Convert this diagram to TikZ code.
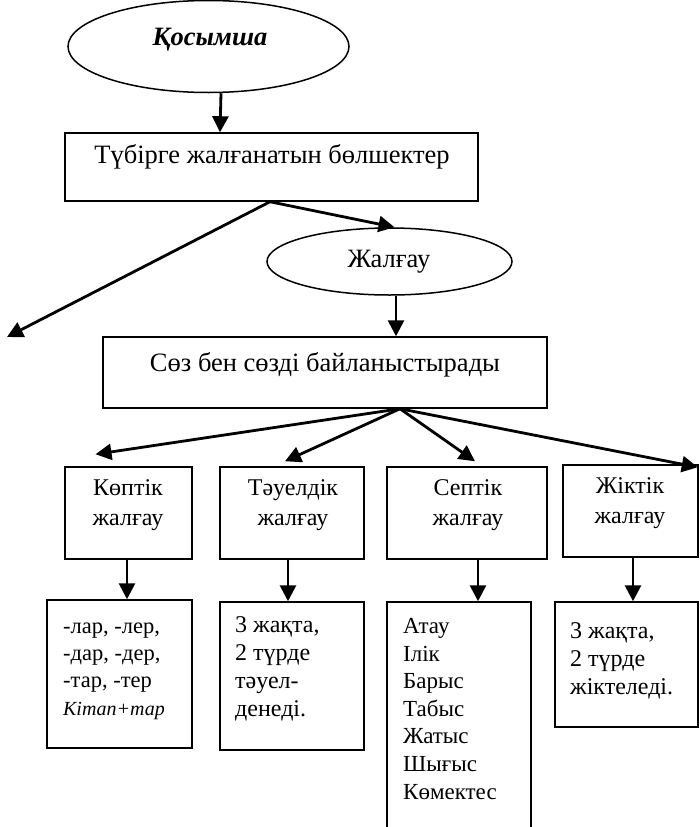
\documentclass[tikz,border=0pt]{standalone}
\usepackage{fontspec}
\setmainfont{Liberation Serif}
\usetikzlibrary{arrows.meta,shapes.geometric}
\tikzset{
  box/.style={draw, line width=1.5pt, rectangle, inner sep=0pt},
  oval/.style={draw, line width=1.5pt, ellipse, inner sep=0pt},
  arr/.style={line width=2.8pt, -{Triangle[length=16pt,width=16pt]}},
  txt/.style={inner sep=0pt, font=\fontsize{26.5}{30}\selectfont},
  ltxt/.style={inner sep=0pt, align=left, anchor=north west},
  ctxt/.style={inner sep=0pt, align=center, font=\fontsize{24}{30}\selectfont},
}
\begin{document}
\begin{tikzpicture}[x=1pt,y=-1pt]
\useasboundingbox (0,0) rectangle (699,827);
\clip (0,0) rectangle (699,827);
% top ellipse
\node[oval, minimum width=281, minimum height=92] (e1) at (208.5,46.5) {};
\node[txt, font=\fontsize{26.5}{30}\selectfont\bfseries\itshape] (t1) at (210,40) {Қосымша};
% box 1
\node[box, minimum width=413, minimum height=68] (b1) at (271.5,167) {};
\node[txt] (t2) at (272,157) {Түбірге жалғанатын бөлшектер};
% ellipse 2
\node[oval, minimum width=245, minimum height=67] (e2) at (389.5,261.5) {};
\node[txt] (t3) at (389,262) {Жалғау};
% box 2
\node[box, minimum width=444, minimum height=71] (b2) at (325,372.5) {};
\node[txt] (t4) at (325,365) {Сөз бен сөзді байланыстырады};
% category boxes
\node[box, minimum width=127, minimum height=92] (k1) at (128.5,513) {};
\node[box, minimum width=144, minimum height=92] (k2) at (292,513) {};
\node[box, minimum width=160, minimum height=92] (k3) at (467,513) {};
\node[box, minimum width=135, minimum height=92] (k4) at (630.5,511) {};
\node[ctxt] (c1) at (128,505) {Көптік\\жалғау};
\node[ctxt] (c2) at (293,505) {Тәуелдік\\жалғау};
\node[ctxt] (c3) at (468,505) {Септік\\жалғау};
\node[ctxt] (c4) at (630,503) {Жіктік\\жалғау};
% detail boxes
\node[box, minimum width=145, minimum height=148] (d1) at (119.5,674) {};
\node[box, minimum width=144, minimum height=148] (d2) at (292,676) {};
\node[box, minimum width=144, minimum height=240] (d3) at (459,722) {};
\node[box, minimum width=143, minimum height=125] (d4) at (626.5,664.5) {};
\node[ltxt, font=\fontsize{22.5}{27.3}\selectfont] (l1) at (63,614) {\strut-лар, -лер,\\-дар, -дер,\\-тар, -тер\\{\fontsize{20}{27.3}\selectfont\itshape Кітап+тар}};
\node[ltxt, font=\fontsize{24}{28.3}\selectfont] (l2) at (235,612) {\strut 3 жақта,\\2 түрде\\тәуел-\\денеді.};
\node[ltxt, font=\fontsize{23}{27.6}\selectfont] (l3) at (403,614) {\strut Атау\\Ілік\\Барыс\\Табыс\\Жатыс\\Шығыс\\Көмектес};
\node[ltxt, font=\fontsize{24}{28.3}\selectfont] (l4) at (570,618) {\strut 3 жақта,\\2 түрде\\жіктеледі.};
% connectors
\coordinate (s1) at ([xshift=-1.5pt]b1.south);
\coordinate (free) at (7,337);
\coordinate (s2) at ([xshift=75pt]b2.south);
\draw[arr] ([xshift=12.5pt]e1.south) -- ([xshift=-51.5pt]b1.north);
\draw[arr] (s1) -- (free);
\draw[arr] (s1) -- ([xshift=5pt]e2.north);
\draw[arr] ([xshift=6.5pt]e2.south) -- ([xshift=71pt]b2.north);
\draw[arr] (s2) -- ([xshift=-33pt,yshift=12pt]k1.north);
\draw[arr] (s2) -- ([xshift=-7pt,yshift=5pt]k2.north);
\draw[arr] (s2) -- ([xshift=8pt,yshift=5pt]k3.north);
\draw[arr] (s2) -- ([xshift=-1pt,yshift=-3pt]k4.north east);
\draw[arr] ([xshift=-1.5pt]k1.south) -- ([xshift=7.5pt]d1.north);
\draw[arr] ([xshift=-4pt]k2.south) -- ([xshift=-4pt]d2.north);
\draw[arr] ([xshift=11pt]k3.south) -- ([xshift=19pt]d3.north);
\draw[arr] ([xshift=2.5pt]k4.south) -- ([xshift=6.5pt]d4.north);
\end{tikzpicture}
\end{document}
